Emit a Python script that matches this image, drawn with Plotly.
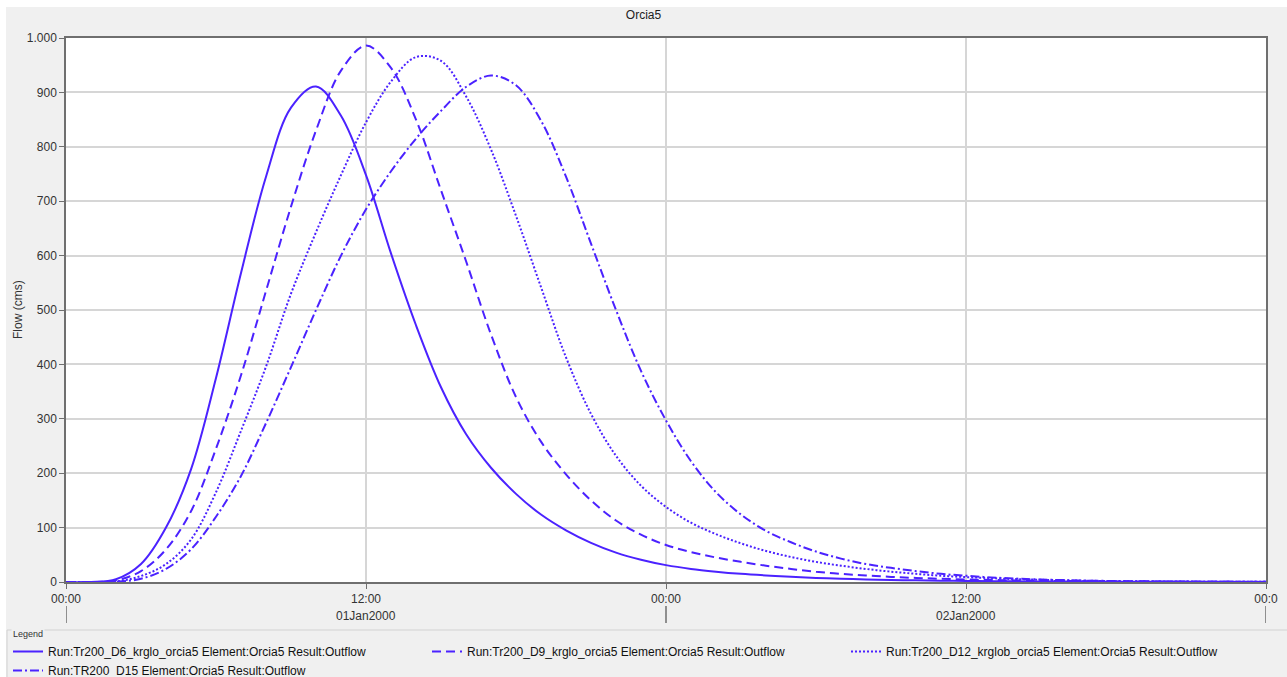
import pandas as pd
import plotly.graph_objects as go

# ---------------- data ----------------
start = "2000-01-01 00:00"
hours = list(range(49))

q_d6 = [0, 0, 5, 33, 100, 207, 375, 568, 745, 872, 911, 857, 748, 604, 472, 358, 272, 210, 162, 124,
        95, 72, 54, 41, 31, 24, 19, 15, 12, 9.5, 7.5, 6, 4.8, 3.8, 3.1, 2.5, 2, 1.6, 1.3, 1.0,
        0.8, 0.7, 0.6, 0.5, 0.4, 0.3, 0.3, 0.2, 0.2]
q_d9 = [0, 0, 3, 20, 60, 130, 245, 380, 535, 690, 830, 940, 986, 945, 850, 720, 590, 455, 340, 258,
        198, 150, 113, 87, 68, 55, 45, 37, 30, 24, 19, 15, 12, 9.4, 7.5, 5.9, 4.7, 3.7, 2.9, 2.3,
        1.8, 1.4, 1.1, 0.9, 0.7, 0.5, 0.4, 0.3, 0.3]
q_d12 = [0, 0, 1, 11, 33, 78, 165, 278, 396, 530, 643, 748, 845, 920, 965, 958, 893, 795, 673, 542,
         413, 309, 232, 177, 138, 109, 88, 71, 57, 46, 37, 30, 24, 19, 15, 11.5, 9, 7, 5.3, 4,
         3, 2.2, 1.6, 1.2, 0.9, 0.7, 0.5, 0.4, 0.3]
q_d15 = [0, 0, 0.5, 6, 24, 60, 120, 195, 292, 395, 500, 600, 685, 755, 815, 866, 910, 931, 913, 848,
         745, 622, 500, 388, 297, 222, 165, 124, 94, 73, 56, 43, 33, 26, 20, 15, 11.5, 8.5, 6.3, 4.6,
         3.4, 2.5, 1.8, 1.3, 1.0, 0.7, 0.5, 0.4, 0.3]

series_names = [
    "Run:Tr200_D6_krglo_orcia5 Element:Orcia5 Result:Outflow",
    "Run:Tr200_D9_krglo_orcia5 Element:Orcia5 Result:Outflow",
    "Run:Tr200_D12_krglob_orcia5 Element:Orcia5 Result:Outflow",
    "Run:TR200_D15 Element:Orcia5 Result:Outflow",
]
series_dash = ["solid", "9px,5px", "2px,2px", "9px,3px,2px,3px"]

x_tick_hours = [0, 12, 24, 36, 48]
x_tick_text = ["00:00", "12:00", "00:00", "12:00", "00:0"]
day_boundary_hours = [0, 24, 48]
day_label_hours = [12, 36]
day_label_text = ["01Jan2000", "02Jan2000"]
y_tick_vals = [0, 100, 200, 300, 400, 500, 600, 700, 800, 900, 1000]
y_tick_text = ["0", "100", "200", "300", "400", "500", "600", "700", "800", "900", "1.000"]

# ---------------- figure ----------------
t0 = pd.Timestamp(start)
def at(h):
    return t0 + pd.Timedelta(hours=h)

times = [at(h) for h in hours]
LINE = "#4b22ff"
W, H = 1287, 677
ML, MR, MT, MB = 66, 21, 38, 95
PW, PH = W - ML - MR, H - MT - MB

def px_x(px):
    return (px - ML) / PW

def px_y(py):
    return (H - MB - py) / PH

fig = go.Figure()
for name, vals, dash in zip(series_names, [q_d6, q_d9, q_d12, q_d15], series_dash):
    fig.add_trace(go.Scatter(
        x=times, y=vals, name=name, mode="lines",
        line=dict(color=LINE, width=2, dash=dash, shape="spline", smoothing=1.0),
    ))

font_family = "Liberation Sans, Arial, sans-serif"
axis_col = "#6f6f6f"
grid_col = "#d6d6d6"

fig.update_layout(
    width=W, height=H, autosize=False,
    margin=dict(l=ML, r=MR, t=MT, b=MB, autoexpand=False),
    paper_bgcolor="#f0f0f0", plot_bgcolor="white",
    font=dict(family=font_family, size=12, color="#333333"),
    title=dict(text="Orcia5", x=0.5, xref="container", xanchor="center",
               y=1 - 15 / H, yref="container", yanchor="middle",
               font=dict(size=12, color="#222222")),
    showlegend=True,
    legend=dict(
        orientation="h", x=px_x(8), xanchor="left", y=px_y(637), yanchor="top",
        entrywidth=374, entrywidthmode="pixels",
        font=dict(size=12, color="#111111", family=font_family),
        bgcolor="rgba(0,0,0,0)", tracegroupgap=0, itemwidth=30,
    ),
    xaxis=dict(
        type="date", range=[at(0), at(48)],
        tickmode="array", tickvals=[at(h) for h in x_tick_hours], ticktext=x_tick_text,
        showgrid=True, gridcolor=grid_col, gridwidth=1.5,
        showline=True, linecolor=axis_col, linewidth=1.5, mirror=True,
        ticks="outside", ticklen=5, tickcolor=axis_col, zeroline=False,
        tickfont=dict(size=12, color="#333333"),
    ),
    yaxis=dict(
        range=[0, 1000], tickmode="array", tickvals=y_tick_vals, ticktext=y_tick_text,
        showgrid=True, gridcolor=grid_col, gridwidth=1.5,
        showline=True, linecolor=axis_col, linewidth=1.5, mirror=True,
        ticks="outside", ticklen=5, tickcolor=axis_col, zeroline=False,
        tickfont=dict(size=12, color="#333333"),
    ),
)

shapes = []
# long ticks at day boundaries
for h in day_boundary_hours:
    shapes.append(dict(type="line", xref="x", yref="paper", x0=at(h), x1=at(h),
                       y0=px_y(606), y1=px_y(623), line=dict(color=axis_col, width=1.5)))
# legend group box
shapes.append(dict(type="rect", xref="paper", yref="paper",
                   x0=px_x(7), x1=px_x(W + 10), y0=px_y(630), y1=px_y(H + 10),
                   line=dict(color="#d2d2d2", width=1), fillcolor="rgba(0,0,0,0)"))
# white outer strips (left and top)
shapes.append(dict(type="rect", xref="paper", yref="paper", x0=px_x(-2), x1=px_x(6),
                   y0=px_y(H + 2), y1=px_y(-2), line=dict(width=0), fillcolor="white"))
shapes.append(dict(type="rect", xref="paper", yref="paper", x0=px_x(-2), x1=px_x(W + 2),
                   y0=px_y(7), y1=px_y(-2), line=dict(width=0), fillcolor="white"))
fig.update_layout(shapes=shapes)

annotations = []
for h, txt in zip(day_label_hours, day_label_text):
    annotations.append(dict(x=at(h), xref="x", y=px_y(616), yref="paper", text=txt,
                            showarrow=False, xanchor="center", yanchor="middle",
                            font=dict(size=12, color="#333333")))
annotations.append(dict(x=px_x(18), xref="paper", y=0.5, yref="paper", text="Flow (cms)",
                        textangle=-90, showarrow=False, xanchor="center", yanchor="middle",
                        font=dict(size=12, color="#333333")))
annotations.append(dict(x=px_x(11), xref="paper", y=px_y(634), yref="paper", text="Legend",
                        showarrow=False, xanchor="left", yanchor="middle",
                        bgcolor="#f0f0f0", font=dict(size=9, color="#333333")))
fig.update_layout(annotations=annotations)

fig.write_html("out.html")
